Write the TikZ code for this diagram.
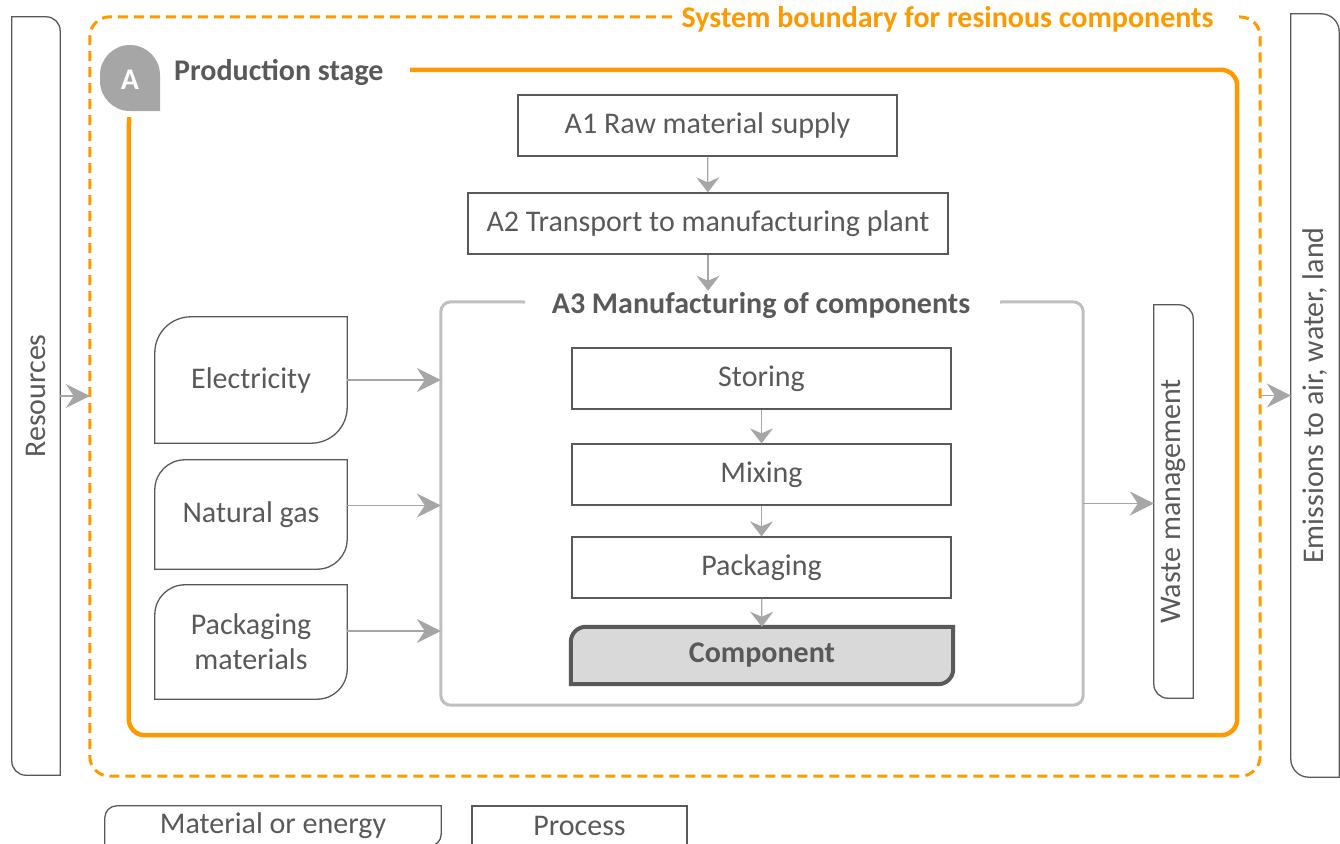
\documentclass[tikz,border=0pt]{standalone}
\usepackage{fontspec}
\setmainfont{Carlito}
\usepackage{graphicx}
\usepackage{tikz}
\usetikzlibrary{arrows.meta,positioning,backgrounds}

\definecolor{txtgray}{HTML}{595959}
\definecolor{linegray}{HTML}{A6A6A6}
\definecolor{framegray}{HTML}{BFBFBF}
\definecolor{compfill}{HTML}{D9D9D9}
\definecolor{lcaorange}{HTML}{FF9900}

% outline, rounded top left and bottom right
\newcommand{\tlbrbox}[3]{\draw[line cap=rect,rounded corners=#2,#3] (#1.north east) -- (#1.south east) -- (#1.south west) (#1.south west) -- (#1.north west) -- (#1.north east);}
% outline, rounded top right and bottom left
\newcommand{\trblbox}[3]{\draw[line cap=rect,rounded corners=#2,#3] (#1.north west) -- (#1.north east) -- (#1.south east) (#1.south east) -- (#1.south west) -- (#1.north west);}

\begin{document}
\begin{tikzpicture}[x=1pt,y=-1pt,
	txt/.style={text=txtgray,font=\fontsize{30}{35}\selectfont},
	title/.style={text=txtgray,font=\fontsize{30}{35}\selectfont\bfseries},
	procbox/.style={txt,draw=txtgray,line width=1.3pt,minimum height=61pt,inner sep=0pt},
	matbox/.style={txt,inner sep=0pt,align=center},
	flowline/.style={txtgray,line width=1.3pt},
	arr/.style={draw=linegray,line width=1.3pt,-{Stealth[length=24pt,width=24pt,inset=8pt]}},
	arrsm/.style={draw=linegray,line width=1.3pt,-{Stealth[length=15pt,width=23pt,inset=5pt]}}]
\useasboundingbox (0,0) rectangle (1340,843);

\begin{scope}
	\node[txt,minimum width=48pt,minimum height=758pt,inner sep=0pt] (res) at (36,396) {\rotatebox{90}{Resources}};
	\node[minimum width=1170pt,minimum height=759pt,inner sep=0pt] (sysb) at (675,396.5) {};
	\node[title,text=lcaorange,inner sep=0pt] (sysbtitle) at (947.5,19) {System boundary for resinous components};
	\node[minimum width=1108pt,minimum height=665pt,inner sep=0pt] (prod) at (683,402.5) {};
	\node[title,text=white] (badge) at (130,80) {A};
	\node[title,anchor=west,inner sep=0pt] (prodtitle) at (174,72) {Production stage};

	\node[procbox,minimum width=379pt] (a1) at (707.5,125.5) {A1 Raw material supply};
	\node[procbox,minimum width=480pt] (a2) at (708,223.5) {A2 Transport to manufacturing plant};
	\node[minimum width=642pt,minimum height=403pt,inner sep=0pt] (a3) at (762,503.5) {};
	\node[title,inner sep=2pt] (a3title) at (761,306) {A3 Manufacturing of components};

	\node[procbox,minimum width=379pt] (store) at (761.5,378.5) {Storing};
	\node[procbox,minimum width=379pt] (mix) at (761.5,474.5) {Mixing};
	\node[procbox,minimum width=379pt] (pack) at (761.5,567.5) {Packaging};
	\node[title,minimum width=382pt,minimum height=57pt,inner sep=0pt] (comp) at (762,655.5) {Component};

	\node[matbox,minimum width=192pt,minimum height=126pt] (elec) at (251,380) {Electricity};
	\node[matbox,minimum width=192pt,minimum height=109pt] (gas) at (251,514.5) {Natural gas};
	\node[matbox,minimum width=192pt,minimum height=114pt] (pmat) at (251,642) {Packaging\\materials};

	\node[txt,minimum width=39pt,minimum height=393pt,inner sep=0pt] (waste) at (1173.5,501.5) {\rotatebox{90}{Waste management}};
	\node[txt,minimum width=48pt,minimum height=763pt,inner sep=0pt] (emis) at (1315,395.5) {\rotatebox{90}{Emissions to air, water, land}};

	\node[matbox,minimum width=336pt,minimum height=40pt] (legmat) at (273,826) {Material or energy};
	\node[procbox,minimum width=215pt,minimum height=40pt] (legproc) at (579.5,826) {Process};
\end{scope}

\begin{scope}[on background layer]
	\trblbox{res}{14pt}{flowline}
	\trblbox{waste}{14pt}{flowline}
	\trblbox{emis}{18pt}{flowline}
	\tlbrbox{elec}{36pt}{flowline}
	\tlbrbox{gas}{30pt}{flowline}
	\tlbrbox{pmat}{30pt}{flowline}
	\tlbrbox{legmat}{12pt}{flowline}
	\tlbrbox{comp}{15pt}{flowline,line width=4pt,fill=compfill}
	\fill[linegray,rounded corners=30pt] (160,111) -- (100,111) -- (100,45) -- (160,45) -- (160,111);
\end{scope}

% boundaries
\draw[lcaorange,line width=3pt,dash pattern=on 10pt off 6pt,rounded corners=20pt] (672,17) -- (sysb.north west) -- (sysb.south west) -- (sysb.south east) -- (sysb.north east) -- (1237,17);
\draw[lcaorange,line width=4.5pt,rounded corners=16pt] (410,70) -- (prod.north east) -- (prod.south east) -- (prod.south west) -- (129,117);
\draw[framegray,line width=3pt,rounded corners=10pt] (525,302) -- (a3.north west) -- (a3.south west) -- (a3.south east) -- (a3.north east) -- (1000,302);

\begin{scope}
	\path ([yshift=9pt]gas.east) coordinate (gasout);
	\path ([yshift=11pt]pmat.east) coordinate (pmatout);
	\draw[arr] (res.east) -- (res.east -| sysb.west);
	\draw[arrsm] (a1) -- (a2);
	\draw[arrsm] (a2.south) -- (a2.south |- a3title.north);
	\draw[arrsm] (store) -- (mix);
	\draw[arrsm] (mix) -- (pack);
	\draw[arrsm] (pack) -- (comp);
	\draw[arr] (elec.east) -- (elec.east -| a3.west);
	\draw[arr] (gasout) -- (gasout -| a3.west);
	\draw[arr] (pmatout) -- (pmatout -| a3.west);
	\draw[arr] (a3.east) -- (a3.east -| waste.west);
	\draw[arr] (sysb.east |- emis.west) -- (emis.west);
\end{scope}
\end{tikzpicture}
\end{document}
